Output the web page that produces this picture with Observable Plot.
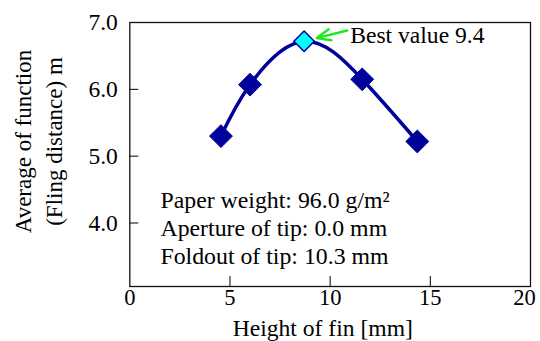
<!DOCTYPE html>
<html><head><meta charset="utf-8">
<script src="https://cdn.jsdelivr.net/npm/d3@7"></script>
<script src="https://cdn.jsdelivr.net/npm/@observablehq/plot@0.6"></script>
<style>body{margin:0;background:#fff} svg text{font-family:"Liberation Serif", serif !important}</style>
</head><body><div id="chart"></div>
<script>
const finHeight = [4.55, 6.0, 8.7, 11.6, 14.35];
const flingDistance = [5.3, 6.07, 6.72, 6.15, 5.22];
const bestIndex = 2;
const xTicks = [0, 5, 10, 15, 20];
const yTicks = [4, 5, 6, 7];
const xLabel = "Height of fin [mm]";
const yLabelLines = ["Average of function", "(Fling distance) m"];
const infoLines = ["Paper weight: 96.0 g/m²", "Aperture of tip: 0.0 mm", "Foldout of tip: 10.3 mm"];
const infoAnchor = [1.53, 4.53];
const bestLabel = "Best value 9.4";
const bestLabelAnchor = [11.0, 6.69];
const bestArrowFrom = [10.85, 6.88];

const W = 540, H = 341, mL = 129.3, mR = 10, mT = 22, mB = 55;
const frameW = W - mL - mR, frameH = H - mT - mB;
const pts = finHeight.map((x, i) => ({x, y: flingDistance[i], best: i === bestIndex}));
const best = pts[bestIndex];
const navy = "#00009a";
const fmt = d3.format(".1f");
const ff = "Liberation Serif";

const chart = Plot.plot({
  width: W, height: H,
  marginLeft: mL, marginRight: mR, marginTop: mT, marginBottom: mB,
  style: {fontFamily: ff, fontSize: "22px", background: "#fff", color: "#000"},
  x: {domain: [0, 20], label: null},
  y: {domain: [3.05, 7], label: null},
  marks: [
    Plot.axisX(xTicks.slice(0, -1), {tickSize: 0, tickPadding: 2.5, fontSize: 22.5, fontFamily: ff, label: null}),
    Plot.axisX(xTicks.slice(-1), {tickSize: 0, tickPadding: 2.5, fontSize: 22.5, fontFamily: ff, label: null, dx: -6}),
    Plot.axisY(yTicks, {tickSize: 0, tickPadding: 12, fontSize: 23.5, fontFamily: ff, label: null, tickFormat: fmt}),
    Plot.tickX(xTicks.slice(1, -1), {x: d => d, insetTop: frameH - 10, stroke: "#000"}),
    Plot.tickY(yTicks.slice(0, -1), {y: d => d, insetRight: frameW - 9, stroke: "#000"}),
    Plot.frame({stroke: "#111", strokeWidth: 1.3}),
    Plot.line(pts, {x: "x", y: "y", curve: "natural", stroke: navy, strokeWidth: 3.5}),
    Plot.dot(pts.filter(d => !d.best), {x: "x", y: "y", symbol: "diamond2", r: 10.3, fill: navy, stroke: navy, strokeWidth: 1}),
    Plot.dot([best], {x: "x", y: "y", symbol: "diamond2", r: 9.2, fill: "#00ffff", stroke: navy, strokeWidth: 1.5}),
    Plot.arrow([{x1: bestArrowFrom[0], y1: bestArrowFrom[1], x2: best.x, y2: best.y}],
      {x1: "x1", y1: "y1", x2: "x2", y2: "y2", insetEnd: 13, stroke: "#1ee81e", strokeWidth: 2.4, headLength: 10, headAngle: 45}),
    Plot.text([bestLabel], {x: () => bestLabelAnchor[0], y: () => bestLabelAnchor[1], text: d => d, textAnchor: "start", lineAnchor: "bottom", fontSize: 23.6, fontFamily: ff}),
    Plot.text([infoLines.join("\n")], {x: () => infoAnchor[0], y: () => infoAnchor[1], text: d => d, textAnchor: "start", lineAnchor: "top", lineHeight: 1.19, fontSize: 23.8, fontFamily: ff}),
    Plot.text([xLabel], {frameAnchor: "bottom", text: d => d, dx: -7.4, dy: 49, lineAnchor: "bottom", fontSize: 23.6, fontFamily: ff}),
    Plot.text([yLabelLines[0]], {frameAnchor: "left", text: d => d, rotate: -90, dx: 30 - mL, dy: -13, lineAnchor: "bottom", textAnchor: "middle", fontSize: 23, fontFamily: ff}),
    Plot.text([yLabelLines[1]], {frameAnchor: "left", text: d => d, rotate: -90, dx: 61 - mL, dy: -13, lineAnchor: "bottom", textAnchor: "middle", fontSize: 23, fontFamily: ff})
  ]
});
document.getElementById("chart").appendChild(chart);
</script>
</body></html>
